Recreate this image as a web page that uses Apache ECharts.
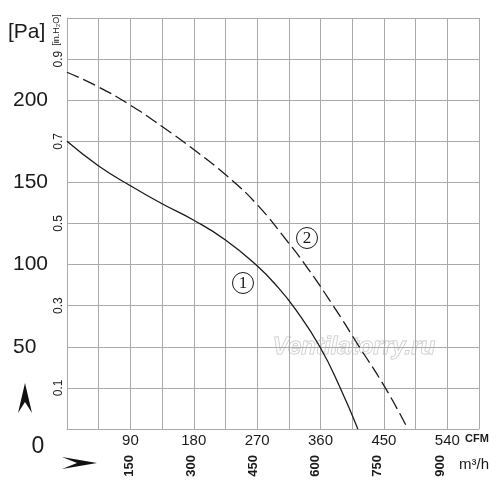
<!DOCTYPE html>
<html>
<head>
<meta charset="utf-8">
<script src="https://cdn.jsdelivr.net/npm/echarts@6/dist/echarts.min.js"></script>
<style>
  html, body { margin: 0; padding: 0; background: #fff; }
  #chart { width: 500px; height: 498px; }
</style>
</head>
<body>
<div id="chart"></div>
<script>
// curve 1 (solid) and curve 2 (dashed), flow in CFM, pressure in Pa
var curve1Cfm = [0, 45, 90, 135, 180, 225, 268, 300, 324, 359, 388, 413];
var curve1Pa  = [175, 160, 148, 137, 127, 115, 100, 86, 73, 50, 25, 0];
var curve2Cfm = [0, 45, 90, 135, 180, 227, 271, 315, 338, 378, 415, 452, 484];
var curve2Pa  = [217, 208, 197, 184, 170, 154, 136, 113, 100, 75, 50, 25, 0];

// axis ticks
var cfmLabels = [90, 180, 270, 360, 450, 540];
var m3hLabels = [150, 300, 450, 600, 750, 900];
var paLabels = [50, 100, 150, 200];
var inh2oLabels = ['0.1', '0.3', '0.5', '0.7', '0.9'];

var cfmMax = 585;
var m3hMax = cfmMax * 1.699;

var sans = '"Liberation Sans", Arial, sans-serif';
var gridColor = '#aaaaaa';
var ink = '#1a1a1a';

function pairs(xs, ys) {
    var out = [];
    for (var i = 0; i < xs.length; i++) {
        out.push([xs[i], ys[i]]);
    }
    return out;
}

var myChart = echarts.init(document.getElementById('chart'));

var option = {
    animation: false,
    backgroundColor: '#fff',
    grid: { left: 67, top: 18, right: 21, bottom: 69 },
    xAxis: [
        {
            type: 'value',
            min: 0,
            max: cfmMax,
            interval: 45,
            position: 'bottom',
            axisLine: { show: true, lineStyle: { color: gridColor, width: 1 } },
            axisTick: { show: false },
            splitLine: { show: true, lineStyle: { color: gridColor, width: 1 } },
            axisLabel: {
                margin: 4,
                fontSize: 15,
                fontFamily: sans,
                color: ink,
                formatter: function (v) {
                    return cfmLabels.indexOf(Math.round(v)) >= 0 ? String(Math.round(v)) : '';
                }
            }
        },
        {
            type: 'value',
            min: 0,
            max: m3hMax,
            interval: 150,
            position: 'bottom',
            axisLine: { show: false },
            axisTick: { show: false },
            splitLine: { show: false },
            axisLabel: {
                rotate: 90,
                margin: 26,
                fontSize: 13,
                fontWeight: 'bold',
                fontFamily: sans,
                color: ink,
                formatter: function (v) {
                    return m3hLabels.indexOf(Math.round(v)) >= 0 ? String(Math.round(v)) : '';
                }
            }
        }
    ],
    yAxis: [
        {
            type: 'value',
            min: 0,
            max: 250,
            interval: 25,
            position: 'left',
            axisLine: { show: true, lineStyle: { color: gridColor, width: 1 } },
            axisTick: { show: false },
            splitLine: { show: true, lineStyle: { color: gridColor, width: 1 } },
            axisLabel: {
                align: 'left',
                margin: 54,
                fontSize: 21,
                fontFamily: sans,
                color: ink,
                formatter: function (v) {
                    return paLabels.indexOf(Math.round(v)) >= 0 ? String(Math.round(v)) : '';
                }
            }
        },
        {
            type: 'value',
            min: 0,
            max: 1,
            interval: 0.1,
            position: 'left',
            axisLine: { show: false },
            axisTick: { show: false },
            splitLine: { show: false },
            axisLabel: {
                rotate: 90,
                margin: 2,
                fontSize: 12,
                fontFamily: sans,
                color: ink,
                formatter: function (v) {
                    var s = v.toFixed(1);
                    return inh2oLabels.indexOf(s) >= 0 ? s : '';
                }
            }
        }
    ],
    series: [
        {
            name: '1',
            type: 'line',
            xAxisIndex: 0,
            yAxisIndex: 0,
            smooth: true,
            symbol: 'none',
            data: pairs(curve1Cfm, curve1Pa),
            lineStyle: { color: ink, width: 1.3 }
        },
        {
            name: '2',
            type: 'line',
            xAxisIndex: 0,
            yAxisIndex: 0,
            smooth: true,
            symbol: 'none',
            data: pairs(curve2Cfm, curve2Pa),
            lineStyle: { color: ink, width: 1.3, type: [13, 5] }
        }
    ],
    graphic: [
        // watermark
        {
            type: 'text', x: 354, y: 347,
            style: {
                text: 'Ventilatorry.ru', align: 'center', verticalAlign: 'middle',
                font: 'italic bold 24px ' + sans,
                fill: 'rgba(255,255,255,0.5)', stroke: '#c4c4c4', lineWidth: 1
            }
        },
        {
            type: 'text', x: 8, y: 32,
            style: { text: '[Pa]', align: 'left', verticalAlign: 'middle', font: '21px ' + sans, fill: ink }
        },
        {
            type: 'text', x: 57, y: 30, rotation: Math.PI / 2,
            style: { text: '[in.H\u2082O]', align: 'center', verticalAlign: 'middle', font: '9px ' + sans, fill: ink }
        },
        {
            type: 'text', x: 38, y: 447,
            style: { text: '0', align: 'center', verticalAlign: 'middle', font: '23px ' + sans, fill: ink }
        },
        {
            type: 'text', x: 477, y: 439,
            style: { text: 'CFM', align: 'center', verticalAlign: 'middle', font: 'bold 11px ' + sans, fill: ink }
        },
        {
            type: 'text', x: 474, y: 465,
            style: { text: 'm\u00b3/h', align: 'center', verticalAlign: 'middle', font: '15px ' + sans, fill: ink }
        },
        // arrow heads
        {
            type: 'polygon',
            shape: { points: [[25, 383], [32, 413], [25, 402], [18, 413]] },
            style: { fill: '#111' }
        },
        {
            type: 'polygon',
            shape: { points: [[97, 463], [62, 469], [77, 463], [62, 457]] },
            style: { fill: '#111' }
        },
        // curve markers
        {
            type: 'circle', shape: { cx: 243, cy: 283, r: 10.5 },
            style: { fill: '#fff', stroke: ink, lineWidth: 1 }
        },
        {
            type: 'text', x: 243, y: 284,
            style: { text: '1', align: 'center', verticalAlign: 'middle', font: '17px "Liberation Serif", serif', fill: ink }
        },
        {
            type: 'circle', shape: { cx: 307, cy: 238, r: 10.5 },
            style: { fill: '#fff', stroke: ink, lineWidth: 1 }
        },
        {
            type: 'text', x: 307, y: 239,
            style: { text: '2', align: 'center', verticalAlign: 'middle', font: '17px "Liberation Serif", serif', fill: ink }
        }
    ]
};

myChart.setOption(option);
</script>
</body>
</html>
